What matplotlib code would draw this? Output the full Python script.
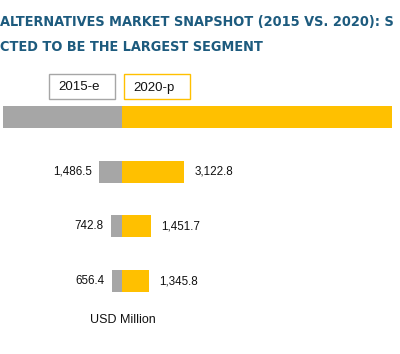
import matplotlib
matplotlib.use("Agg")
import matplotlib.pyplot as plt
from matplotlib.patches import Rectangle

# ---- data ----
categories = ["Total", "Segment A", "Segment B", "Segment C"]
values_2015 = [7700, 1486.5, 742.8, 656.4]
values_2020 = [13500, 3122.8, 1451.7, 1345.8]
labels_2015 = ["", "1,486.5", "742.8", "656.4"]
labels_2020 = ["", "3,122.8", "1,451.7", "1,345.8"]
legend_labels = ["2015-e", "2020-p"]
title_lines = ["ALTERNATIVES MARKET SNAPSHOT (2015 VS. 2020): S",
               "CTED TO BE THE LARGEST SEGMENT"]
unit_label = "USD Million"

GREY = "#A6A6A6"
YELLOW = "#FFC000"
TITLE_C = "#1D5B7E"

W, H = 400, 354
fig = plt.figure(figsize=(W / 100, H / 100), dpi=100)

def fx(px):
    return px / W

def fy(py):
    return 1 - py / H

y_top, y_bot = 89.6, 308.4
x0, xc, x1 = 3, 122, 392

axL = fig.add_axes([fx(x0), fy(y_bot), fx(xc - x0), (y_bot - y_top) / H])
axR = fig.add_axes([fx(xc), fy(y_bot), fx(x1 - xc), (y_bot - y_top) / H])

ypos = list(range(len(categories)))
bh = 0.40
axL.barh(ypos, values_2015, height=bh, color=GREY)
axR.barh(ypos, values_2020, height=bh, color=YELLOW)

axL.set_xlim(values_2015[0], 0)
axR.set_xlim(0, values_2020[0])
for ax in (axL, axR):
    ax.set_ylim(len(categories) - 0.5, -0.5)
    ax.axis("off")

lab_font = dict(family="Liberation Sans", fontsize=8.4, color="#111111")
for y, v, t in zip(ypos, values_2015, labels_2015):
    if t:
        axL.annotate(t, (v, y), xytext=(-5.0, 0), textcoords="offset points",
                     ha="right", va="center", **lab_font)
for y, v, t in zip(ypos, values_2020, labels_2020):
    if t:
        axR.annotate(t, (v, y), xytext=(7.2, 0), textcoords="offset points",
                     ha="left", va="center", **lab_font)

for i, line in enumerate(title_lines):
    fig.text(fx(0), fy(22 + 25 * i), line, ha="left", va="center",
             family="DejaVu Sans", fontstretch="condensed", fontweight="bold",
             fontsize=10.4, color=TITLE_C)

for (bx, ec, txt) in [(49, GREY, legend_labels[0]), (124, YELLOW, legend_labels[1])]:
    r = Rectangle((fx(bx), fy(99)), fx(66), 25 / H, transform=fig.transFigure,
                  facecolor="white", edgecolor=ec, linewidth=1.0)
    fig.add_artist(r)
    fig.text(fx(bx + 9), fy(87.5), txt, ha="left", va="center",
             family="Liberation Sans", fontsize=9.5, color="#111111")

fig.text(fx(90), fy(320), unit_label, ha="left", va="center",
         family="Liberation Sans", fontsize=9, color="#111111")

fig.savefig("out.png", dpi=100)
